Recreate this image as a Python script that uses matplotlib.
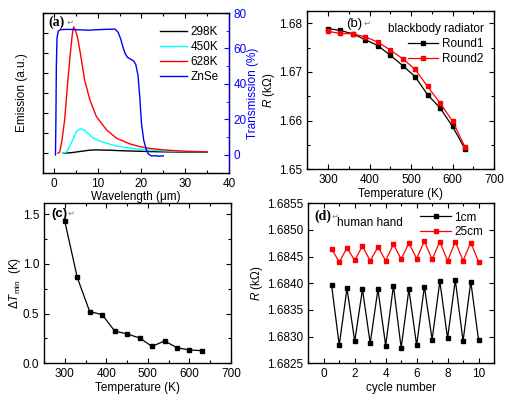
import matplotlib
matplotlib.use("Agg")
import matplotlib.pyplot as plt
from matplotlib.ticker import MultipleLocator, NullFormatter, FormatStrFormatter

plt.rcParams['font.family'] = ['Liberation Sans', 'DejaVu Sans']
plt.rcParams['mathtext.fontset'] = 'custom'
plt.rcParams['mathtext.rm'] = 'Liberation Sans'
plt.rcParams['mathtext.it'] = 'Liberation Sans:italic'
plt.rcParams['font.size'] = 8.5

# ---------------- data ----------------
# (a) emission spectra (a.u.) and ZnSe transmission (%)
wl_298 = [2.0, 4.0, 6.0, 8.0, 9.5, 11.0, 13.0, 15.0, 18.0, 21.0, 25.0, 30.0, 35.0]
em_298 = [0.0, 0.03, 0.09, 0.15, 0.17, 0.16, 0.15, 0.13, 0.11, 0.09, 0.07, 0.06, 0.05]

wl_450 = [2.0, 2.8, 3.5, 4.3, 5.1, 5.7, 6.3, 7.0, 8.0, 8.9, 10.0, 12.0, 14.0,
          16.6, 19.6, 22.0, 25.0, 30.0, 35.0]
em_450 = [0.0, 0.05, 0.3, 0.67, 1.08, 1.18, 1.22, 1.15, 0.95, 0.77, 0.65, 0.5, 0.38,
          0.28, 0.2, 0.16, 0.12, 0.09, 0.07]

wl_628 = [0.9, 1.3, 1.8, 2.45, 3.06, 3.75, 4.2, 4.5, 4.9, 5.5, 6.27, 7.0, 8.2,
          9.7, 12.0, 14.3, 17.3, 19.6, 22.0, 25.0, 30.0, 35.0]
em_628 = [0.0, 0.05, 0.6, 1.67, 3.33, 5.0, 5.95, 6.3, 6.15, 5.67, 4.67, 3.67, 2.67,
          1.83, 1.17, 0.75, 0.47, 0.33, 0.24, 0.17, 0.1, 0.07]

wl_znse = [0.35, 0.45, 0.55, 0.7, 1.0, 1.5, 3.0, 5.0, 8.0, 10.0, 12.0, 14.0, 14.7,
           15.3, 15.8, 16.3, 16.8, 17.5, 18.2, 18.7, 19.2, 19.6, 20.0, 20.5, 21.1,
           21.6, 22.3, 23.0, 24.0, 25.0]
tr_znse = [0.0, 20.0, 50.0, 66.0, 69.8, 70.6, 70.8, 70.6, 70.3, 70.6, 70.8, 70.9, 69.0,
           65.0, 60.5, 57.0, 55.0, 54.0, 53.0, 51.0, 45.0, 33.0, 18.0, 8.5, 3.0,
           0.5, -0.6, -0.4, -0.7, -0.5]

# (b) resistance vs temperature
temp_b = [300, 330, 360, 390, 420, 450, 480, 510, 540, 570, 600, 630]
r_round1 = [1.6789, 1.6785, 1.6778, 1.6766, 1.6754, 1.6734, 1.6713, 1.6690,
            1.6653, 1.6626, 1.6588, 1.6542]
r_round2 = [1.6783, 1.6779, 1.6778, 1.6772, 1.6761, 1.6745, 1.6727, 1.6705,
            1.6670, 1.6636, 1.6599, 1.6546]

# (c) minimum detectable temperature difference
temp_c = [300, 330, 360, 390, 420, 450, 480, 510, 540, 570, 600, 630]
dt_min = [1.43, 0.864, 0.52, 0.49, 0.325, 0.295, 0.255, 0.17, 0.225, 0.157, 0.134, 0.127]

# (d) human hand cycles
cycle = [0.5, 1.0, 1.5, 2.0, 2.5, 3.0, 3.5, 4.0, 4.5, 5.0,
         5.5, 6.0, 6.5, 7.0, 7.5, 8.0, 8.5, 9.0, 9.5, 10.0]
r_1cm = [1.683975, 1.682838, 1.683906, 1.682913, 1.683888, 1.682875, 1.683888, 1.682831,
         1.683956, 1.682788, 1.683888, 1.682838, 1.683938, 1.682944, 1.684038, 1.682969,
         1.684063, 1.682913, 1.684031, 1.682938]
r_25cm = [1.684644, 1.684400, 1.684663, 1.684431, 1.684700, 1.684419, 1.684681, 1.684425,
          1.684731, 1.684456, 1.684750, 1.684463, 1.684788, 1.684450, 1.684781, 1.684419,
          1.684781, 1.684425, 1.684763, 1.684406]

# ---------------- figure ----------------
fig = plt.figure(figsize=(5.15, 3.99), dpi=100)


def px_axes(l, t, r, b):
    W, H = 515.0, 399.0
    return fig.add_axes([l / W, 1 - b / H, (r - l) / W, (b - t) / H])


def style(ax, right=True, top=True):
    ax.tick_params(which='both', direction='in', top=top, right=right, labelsize=8.5)
    ax.tick_params(which='major', length=3.5, width=0.8)
    ax.tick_params(which='minor', length=2, width=0.8)
    for s in ax.spines.values():
        s.set_linewidth(1.0)


MS = 2.8

# (a)
axa = px_axes(43, 13, 229, 172.7)
axa.plot(wl_298, em_298, color='black', lw=1.0, label='298K')
axa.plot(wl_450, em_450, color='cyan', lw=1.0, label='450K')
axa.plot(wl_628, em_628, color='red', lw=1.0, label='628K')
axa.set_xlim(-2.5, 40)
axa.set_ylim(-0.97, 7.0)
axa.xaxis.set_major_locator(MultipleLocator(10))
axa.xaxis.set_minor_locator(MultipleLocator(5))
axa.yaxis.set_major_locator(MultipleLocator(1))
axa.yaxis.set_major_formatter(NullFormatter())
style(axa, right=False)
axa.set_xlabel('Wavelength (\u03bcm)', labelpad=1)
axa.set_ylabel('Emission (a.u.)', labelpad=7)
axt = axa.twinx()
axt.plot(wl_znse, tr_znse, color='blue', lw=1.0, label='ZnSe')
axt.set_ylim(-10, 80)
axt.yaxis.set_major_locator(MultipleLocator(20))
axt.yaxis.set_minor_locator(MultipleLocator(10))
axt.tick_params(which='both', direction='in', colors='blue', labelsize=8.5)
axt.tick_params(which='major', length=3.5)
axt.tick_params(which='minor', length=2)
axt.spines['right'].set_color('blue')
axt.set_ylabel('Transmission (%)', color='blue', labelpad=0)
h1, l1 = axa.get_legend_handles_labels()
h2, l2 = axt.get_legend_handles_labels()
axa.legend(h1 + h2, l1 + l2, loc='upper right', frameon=False, fontsize=8.5,
           handlelength=2.3, handletextpad=0.3, labelspacing=0.25,
           bbox_to_anchor=(1.0, 0.985))
axa.text(0.03, 0.945, '(a)', transform=axa.transAxes, fontweight='bold',
         family='Liberation Serif', fontsize=10, va='center')
axa.text(0.125, 0.945, '\u21b5', transform=axa.transAxes, color='gray',
         family='DejaVu Sans', fontsize=6, va='center')

# (b)
axb = px_axes(307.3, 11, 494, 169.3)
axb.plot(temp_b, r_round1, color='black', marker='s', ms=MS, lw=0.9, label='Round1')
axb.plot(temp_b, r_round2, color='red', marker='s', ms=MS, lw=0.9, label='Round2')
axb.set_xlim(250, 700)
axb.set_ylim(1.65, 1.6825)
axb.xaxis.set_major_locator(MultipleLocator(100))
axb.xaxis.set_minor_locator(MultipleLocator(50))
axb.yaxis.set_major_locator(MultipleLocator(0.01))
axb.yaxis.set_minor_locator(MultipleLocator(0.005))
axb.yaxis.set_major_formatter(FormatStrFormatter('%.2f'))
style(axb)
axb.set_xlabel('Temperature (K)', labelpad=1)
axb.set_ylabel('$R$ (k\u03a9)', labelpad=1.5)
axb.legend(loc='upper right', frameon=False, fontsize=8.5, title='blackbody radiator',
           title_fontsize=8.5, handlelength=2.6, handletextpad=0.3, labelspacing=0.25,
           bbox_to_anchor=(1.0, 0.99), alignment='right')
axb.text(0.21, 0.92, '(b)', transform=axb.transAxes, fontsize=9.5, va='center')
axb.text(0.3, 0.92, '\u21b5', transform=axb.transAxes, color='gray',
         family='DejaVu Sans', fontsize=6, va='center')

# (c)
axc = px_axes(44, 203.3, 231, 363.3)
axc.plot(temp_c, dt_min, color='black', marker='s', ms=MS, lw=0.9)
axc.set_xlim(250, 700)
axc.set_ylim(0, 1.61)
axc.xaxis.set_major_locator(MultipleLocator(100))
axc.xaxis.set_minor_locator(MultipleLocator(50))
axc.yaxis.set_major_locator(MultipleLocator(0.5))
axc.yaxis.set_minor_locator(MultipleLocator(0.25))
style(axc)
axc.set_xlabel('Temperature (K)', labelpad=1)
axc.set_ylabel(r'$\Delta T_{\rm min}$  (K)', labelpad=0)
axc.text(0.04, 0.935, '(c)', transform=axc.transAxes, fontweight='bold',
         fontsize=9.5, va='center')
axc.text(0.125, 0.935, '\u21b5', transform=axc.transAxes, color='gray',
         family='DejaVu Sans', fontsize=6, va='center')

# (d)
axd = px_axes(308.3, 203.3, 494, 363.3)
axd.plot(cycle, r_1cm, color='black', marker='s', ms=MS, lw=0.9, label='1cm')
axd.plot(cycle, r_25cm, color='red', marker='s', ms=MS, lw=0.9, label='25cm')
axd.set_xlim(-1, 11)
axd.set_ylim(1.6825, 1.6855)
axd.xaxis.set_major_locator(MultipleLocator(2))
axd.xaxis.set_minor_locator(MultipleLocator(1))
axd.yaxis.set_major_locator(MultipleLocator(0.0005))
axd.yaxis.set_major_formatter(FormatStrFormatter('%.4f'))
style(axd)
axd.set_xlabel('cycle number', labelpad=1)
axd.set_ylabel('$R$ (k\u03a9)', labelpad=1.5)
axd.legend(loc='upper right', frameon=False, fontsize=8.5, handlelength=2.6,
           handletextpad=0.3, labelspacing=0.25, bbox_to_anchor=(1.0, 1.015))
axd.text(0.035, 0.92, '(d)', transform=axd.transAxes, fontweight='bold',
         family='Liberation Serif', fontsize=10, va='center')
axd.text(0.125, 0.92, '\u21b5', transform=axd.transAxes, color='gray',
         family='DejaVu Sans', fontsize=6, va='center')
axd.text(0.155, 0.875, 'human hand', transform=axd.transAxes, fontsize=8.5, va='center')

fig.savefig('out.png', dpi=100)
